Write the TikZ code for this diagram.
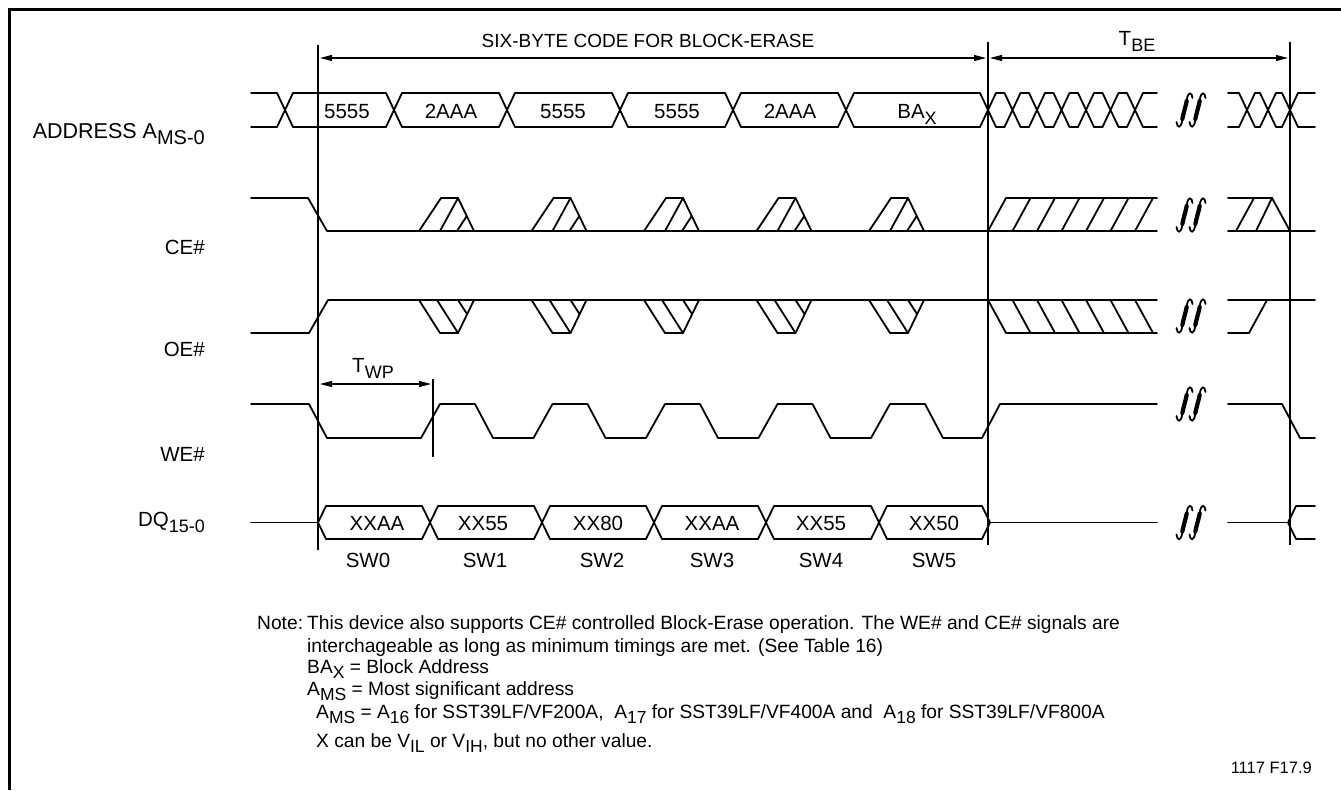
\documentclass[tikz,border=0pt]{standalone}
\usepackage{fontspec}
\setmainfont{Liberation Sans}
\usetikzlibrary{arrows.meta}
\newcommand{\lsub}[1]{\raisebox{-6pt}{\fontsize{18}{18}\selectfont #1}}
\newcommand{\nsub}[1]{\raisebox{-5pt}{\fontsize{17.5}{17.5}\selectfont #1}}
\begin{document}
\begin{tikzpicture}[x=1pt,y=-1pt,
  sig/.style={line width=1.8pt, line cap=round, line join=round},
  vln/.style={line width=1.1pt},
  frm/.style={line width=3pt},
  dimarrow/.style={line width=1.1pt, {Triangle[length=12pt,width=6pt]}-{Triangle[length=12pt,width=6pt]}, shorten <=2pt, shorten >=2pt},
  lbl/.style={font=\fontsize{20.5}{24}\selectfont, inner sep=0pt},
  note/.style={font=\fontsize{19.2}{22}\selectfont, inner sep=0pt, anchor=base west},
  brkthin/.style={line width=1.8pt, line cap=round},
  brkthick/.style={line width=4.2pt, line cap=round},
  brkpic/.pic={
    \foreach \o in {-6.5,6.5} {
      \draw[brkthin] (\o+8,-12) .. controls (\o+7.5,-18) and (\o+3.5,-19) .. (\o+2.2,-10) .. controls (\o+1,-4) and (\o-1,4) .. (\o-2.2,10) .. controls (\o-3.5,19) and (\o-7.5,18) .. (\o-8,12);
      \draw[brkthick] (\o+2.2,-9) .. controls (\o+1,-3) and (\o-1,3) .. (\o-2.2,9);
    }
  }
]
\useasboundingbox (0,0) rectangle (1341,790);
% frame (top and left edges)
\draw[frm] (9.5,790) -- (9.5,9.5) -- (1341,9.5);

% reference lines
\coordinate (v0t) at (318,45);  \coordinate (v0b) at (318,550);
\coordinate (v1t) at (988,42);  \coordinate (v1b) at (988,545);
\coordinate (v2t) at (1290,42); \coordinate (v2b) at (1290,545);
\coordinate (vwt) at (433,379); \coordinate (vwb) at (433,457);
\draw[vln] (v0t) -- (v0b);
\draw[vln] (v1t) -- (v1b);
\draw[vln] (v2t) -- (v2b);
\draw[vln] (vwt) -- (vwb);

% dimension arrows
\coordinate (a0) at (318,58); \coordinate (a1) at (988,58); \coordinate (a2) at (1290,58);
\coordinate (w0) at (318,384); \coordinate (w1) at (433,384);
\draw[dimarrow] (a0) -- (a1);
\draw[dimarrow] (a1) -- (a2);
\draw[dimarrow] (w0) -- (w1);
\node[font=\fontsize{19}{22}\selectfont, inner sep=0pt, anchor=base] (title) at (648,47) {SIX-BYTE CODE FOR BLOCK-ERASE};
\node[lbl, anchor=base] (tbe) at (1137,45) {T\lsub{BE}};
\node[lbl, anchor=base] (twp) at (373,372) {T\lsub{WP}};

% signal names
\node[font=\fontsize{21.5}{24}\selectfont, inner sep=0pt, anchor=base east] (laddr) at (205,138) {ADDRESS A\raisebox{-6pt}{\fontsize{20}{20}\selectfont MS-0}};
\node[lbl, anchor=base east] (lce) at (205,254) {CE\#};
\node[lbl, anchor=base east] (loe) at (205,356) {OE\#};
\node[lbl, anchor=base east] (lwe) at (205,461) {WE\#};
\node[lbl, anchor=base east] (ldq) at (205,526) {DQ\lsub{15-0}};

% ADDRESS bus
\foreach \c in {285,394,507,620,733,846,988,1012.5,1037,1061.5,1086,1110.5,1135,1247,1268,1290}
  \draw[sig] (\c-8,93) -- (\c+8,127) (\c-8,127) -- (\c+8,93);
\foreach \a/\b in {251/277,293/386,402/499,515/612,628/725,741/838,854/980,
  996/1004.5,1020.5/1029,1045/1053.5,1069.5/1078,1094/1102.5,1118.5/1127,1143/1157,
  1228/1239,1255/1260,1276/1282,1298/1315}
  \draw[sig] (\a,93) -- (\b,93) (\a,127) -- (\b,127);
\node[lbl, anchor=base] (ad0) at (347,118) {5555};
\node[lbl, anchor=base] (ad1) at (451,118) {2AAA};
\node[lbl, anchor=base] (ad2) at (563,118) {5555};
\node[lbl, anchor=base] (ad3) at (677,118) {5555};
\node[lbl, anchor=base] (ad4) at (790,118) {2AAA};
\node[lbl, anchor=base] (ad5) at (917,118) {BA\lsub{X}};

% CE#
\draw[sig] (251,198) -- (308,198) -- (327,231) -- (1157,231);
\foreach \x in {419,531.5,644,756.5,869} {
  \draw[sig] (\x,231) -- (\x+22,198) -- (\x+39,198) -- (\x+55,231);
  \draw[sig] (\x+21,231) -- (\x+39,198);
  \draw[sig] (\x+38,231) -- (\x+47.8,216);
}
\draw[sig] (988,231) -- (1006,198) -- (1157,198);
\foreach \k in {1,...,6}
  \draw[sig] (988+24.5*\k,231) -- (1006+24.5*\k,198);
\draw[sig] (1228,231) -- (1315,231);
\draw[sig] (1228,198) -- (1272,198) -- (1290,231);
\draw[sig] (1236,231) -- (1254,198);
\draw[sig] (1256,231) -- (1272,198);

% OE#
\draw[sig] (251,333) -- (309,333) -- (328,300) -- (1157,300);
\foreach \x in {419,531.5,644,756.5,869} {
  \draw[sig] (\x,300) -- (\x+21,333) -- (\x+39,333) -- (\x+55,300);
  \draw[sig] (\x+18,300) -- (\x+39,333);
  \draw[sig] (\x+39,300) -- (\x+48,314);
}
\draw[sig] (988,300) -- (1006,333) -- (1157,333);
\foreach \k in {1,...,6}
  \draw[sig] (988+24.5*\k,300) -- (1006+24.5*\k,333);
\draw[sig] (1228,300) -- (1315,300);
\draw[sig] (1228,333) -- (1249,333) -- (1267,300);

% WE#
\draw[sig] (251,404) -- (309,404) -- (327,438) -- (421,438) -- (440,404) -- (475,404) -- (493,438)
  -- (533.5,438) -- (552.5,404) -- (587.5,404) -- (605.5,438) -- (646,438) -- (665,404) -- (700,404)
  -- (718,438) -- (758.5,438) -- (777.5,404) -- (812.5,404) -- (830.5,438) -- (871,438) -- (890,404)
  -- (925,404) -- (943,438) -- (982,438) -- (1000,404) -- (1157,404);
\draw[sig] (1228,404) -- (1282,404) -- (1300,438) -- (1315,438);

% DQ bus
\draw[sig] (251,522.5) -- (318,522.5);
\draw[sig] (318,522.5) -- (326,506) (318,522.5) -- (326,539);
\foreach \c in {430,542,654,766,879}
  \draw[sig] (\c-8,506) -- (\c+8,539) (\c-8,539) -- (\c+8,506);
\foreach \a/\b in {326/422,438/534,550/646,662/758,774/871,887/982}
  \draw[sig] (\a,506) -- (\b,506) (\a,539) -- (\b,539);
\draw[sig] (982,506) -- (990,522.5) -- (982,539);
\draw[sig] (990,522.5) -- (1157,522.5);
\draw[sig] (1228,522.5) -- (1288,522.5);
\draw[sig] (1288,522.5) -- (1296,506) -- (1315,506) (1288,522.5) -- (1296,539) -- (1315,539);
\node[lbl, anchor=base] (dq0) at (377,530) {XXAA};
\node[lbl, anchor=base] (dq1) at (483,530) {XX55};
\node[lbl, anchor=base] (dq2) at (598,530) {XX80};
\node[lbl, anchor=base] (dq3) at (712,530) {XXAA};
\node[lbl, anchor=base] (dq4) at (821,530) {XX55};
\node[lbl, anchor=base] (dq5) at (934,530) {XX50};
\node[lbl, anchor=base] (sw0) at (368,567) {SW0};
\node[lbl, anchor=base] (sw1) at (485,567) {SW1};
\node[lbl, anchor=base] (sw2) at (602,567) {SW2};
\node[lbl, anchor=base] (sw3) at (712,567) {SW3};
\node[lbl, anchor=base] (sw4) at (821,567) {SW4};
\node[lbl, anchor=base] (sw5) at (934,567) {SW5};

% break marks
\pic at (1191,110) {brkpic};
\pic at (1191,215) {brkpic};
\pic at (1191,316) {brkpic};
\pic at (1191,404) {brkpic};
\pic at (1191,522.5) {brkpic};

% notes
\node[note] (n0) at (257,629) {Note:};
\node[note] (n1) at (307,629) {This device also supports CE\# controlled Block-Erase operation. The WE\# and CE\# signals are};
\node[note] (n2) at (307,652) {interchageable as long as minimum timings are met. (See Table 16)};
\node[note] (n3) at (307,673) {BA\nsub{X} = Block Address};
\node[note] (n4) at (307,695) {A\nsub{MS} = Most significant address};
\node[note] (n5) at (316,718) {A\nsub{MS} = A\nsub{16} for SST39LF/VF200A,\ \ A\nsub{17} for SST39LF/VF400A and\ \ A\nsub{18} for SST39LF/VF800A};
\node[note] (n6) at (316,747) {X can be V\nsub{IL} or V\nsub{IH}, but no other value.};
\node[font=\fontsize{16.5}{18}\selectfont, inner sep=0pt, anchor=base east] (fig) at (1312,773) {1117 F17.9};
\end{tikzpicture}
\end{document}
